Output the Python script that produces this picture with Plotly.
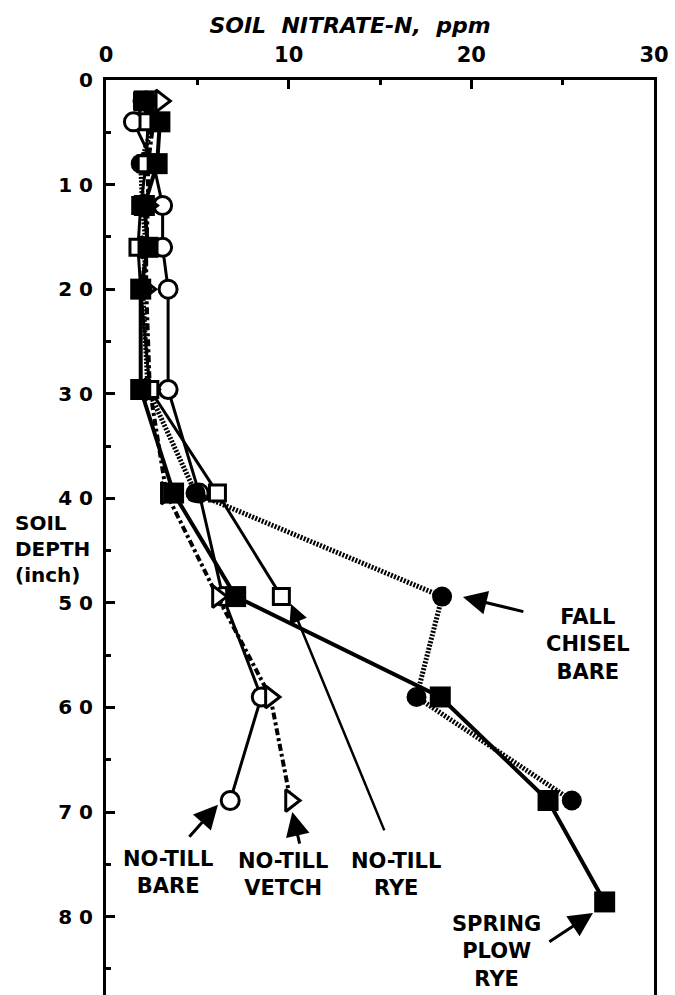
import plotly.graph_objects as go

# ---- data ----
depth = [2, 4, 8, 12, 16, 20, 29.6, 39.5, 49.4, 59, 68.9, 78.6]

spring_plow_rye = [2.1, 2.95, 2.8, 2.1, 2.3, 1.9, 1.9, 3.7, 7.1, 18.3, 24.2, 27.3]
fall_chisel_bare = [2.0, 2.6, 1.9, 2.0, 2.2, 2.0, 2.3, 4.9, 18.4, 17.0, 25.5]
no_till_bare = [2.2, 1.5, 2.6, 3.1, 3.1, 3.4, 3.4, 5.1, 6.4, 8.5, 6.8]
no_till_vetch = [3.0, 2.6, 2.3, 2.3, 2.2, 2.2, 2.4, 3.3, 6.1, 9.0, 10.1]
no_till_rye = [2.0, 2.3, 2.2, 1.9, 1.75, 1.9, 2.4, 6.1, 9.6]

x_ticks = [0, 10, 20, 30]
x_minor = [5, 15, 25]
y_ticks = [0, 10, 20, 30, 40, 50, 60, 70, 80]
y_ticktext = ["0", "1 0", "2 0", "3 0", "4 0", "5 0", "6 0", "7 0", "8 0"]
y_minor = [5, 15, 25, 35, 45, 55, 65, 75, 85]

FONT = "DejaVu Sans"

fig = go.Figure()

# no-till bare: open circles, solid
fig.add_trace(go.Scatter(
    x=no_till_bare, y=depth[:len(no_till_bare)], mode="lines+markers",
    line=dict(color="black", width=3),
    marker=dict(symbol="circle", size=18, color="white", line=dict(color="black", width=3)),
    name="NO-TILL BARE"))

# no-till vetch: open triangles, dash-dot
fig.add_trace(go.Scatter(
    x=no_till_vetch, y=depth[:len(no_till_vetch)], mode="lines+markers",
    line=dict(color="black", width=4, dash="7px,3px,3px,3px"),
    marker=dict(symbol="triangle-right", size=19, color="white", line=dict(color="black", width=3)),
    name="NO-TILL VETCH"))

# fall chisel bare: filled circles, dense dotted
fig.add_trace(go.Scatter(
    x=fall_chisel_bare, y=depth[:len(fall_chisel_bare)], mode="lines+markers",
    line=dict(color="black", width=5, dash="2px,1.5px"),
    marker=dict(symbol="circle", size=20, color="black"),
    name="FALL CHISEL BARE"))

# no-till rye: open squares, solid
fig.add_trace(go.Scatter(
    x=no_till_rye, y=depth[:len(no_till_rye)], mode="lines+markers",
    line=dict(color="black", width=3),
    marker=dict(symbol="square", size=16, color="white", line=dict(color="black", width=3)),
    name="NO-TILL RYE"))

# spring plow rye: filled squares, thick solid
fig.add_trace(go.Scatter(
    x=spring_plow_rye, y=depth[:len(spring_plow_rye)], mode="lines+markers",
    line=dict(color="black", width=4),
    marker=dict(symbol="square", size=21, color="black"),
    name="SPRING PLOW RYE"))

lab_font = dict(family=FONT, size=21, color="black", weight="bold")

annotations = [
    dict(text="SOIL<br>DEPTH<br>(inch)", xref="paper", yref="y", x=-0.1697, y=44.85,
         xanchor="left", yanchor="middle", align="left", showarrow=False,
         font=dict(family=FONT, size=20, color="black", weight="bold")),
    dict(text="FALL<br>CHISEL<br>BARE", x=26.4, y=54.0, showarrow=False, font=lab_font),
    dict(text="NO-TILL<br>BARE", x=3.4, y=75.8, showarrow=False, font=lab_font),
    dict(text="NO-TILL<br>VETCH", x=9.7, y=76.0, showarrow=False, font=lab_font),
    dict(text="NO-TILL<br>RYE", x=15.9, y=76.0, showarrow=False, font=lab_font),
    dict(text="SPRING<br>PLOW<br>RYE", x=21.4, y=83.3, showarrow=False, font=lab_font),
]

# arrows (head at x,y ; tail at ax,ay)
arrows = [
    (19.54, 49.44, 22.93, 50.87, 3, 1.6),
    (6.13, 69.3, 4.49, 72.5, 3, 1.6),
    (10.2, 70.0, 10.62, 73.16, 3, 1.6),
    (10.13, 50.1, 15.27, 71.9, 2.5, 1.5),
    (26.66, 79.66, 24.19, 82.5, 3, 1.6),
]
for hx, hy, tx, ty, w, s in arrows:
    annotations.append(dict(text="", x=hx, y=hy, ax=tx, ay=ty, axref="x", ayref="y",
                            xref="x", yref="y", showarrow=True, arrowhead=2,
                            arrowwidth=w, arrowsize=s, arrowcolor="black", standoff=0))

fig.update_layout(
    width=675, height=995,
    margin=dict(l=106, r=21, t=80, b=0),
    paper_bgcolor="white", plot_bgcolor="white",
    showlegend=False,
    title=dict(text="SOIL\u00a0\u00a0NITRATE-N,\u00a0\u00a0ppm", x=350/675, xref="container",
               xanchor="center", y=1 - 25/995, yref="container", yanchor="middle",
               font=dict(family=FONT, size=22, color="black", weight="bold", style="italic")),
    annotations=annotations,
)

fig.update_xaxes(
    range=[0, 30], side="top", showline=True, linewidth=3, linecolor="black", mirror=False,
    ticks="inside", ticklen=9, tickwidth=3, tickcolor="black",
    tickvals=x_ticks, ticktext=[str(v) for v in x_ticks],
    tickfont=dict(family=FONT, size=21, color="black", weight="bold"),
    ticklabelstandoff=7,
    minor=dict(ticks="inside", ticklen=5, tickwidth=2.5, tickcolor="black", tickvals=x_minor),
    showgrid=False, zeroline=False,
)
fig.update_yaxes(
    range=[87.5, 0], showline=True, linewidth=3, linecolor="black", mirror=True,
    ticks="inside", ticklen=9, tickwidth=3, tickcolor="black",
    tickvals=y_ticks, ticktext=y_ticktext,
    tickfont=dict(family=FONT, size=20, color="black", weight="bold"),
    ticklabelstandoff=6,
    minor=dict(ticks="inside", ticklen=5, tickwidth=2.5, tickcolor="black", tickvals=y_minor),
    showgrid=False, zeroline=False,
)

fig.write_html("out.html")
